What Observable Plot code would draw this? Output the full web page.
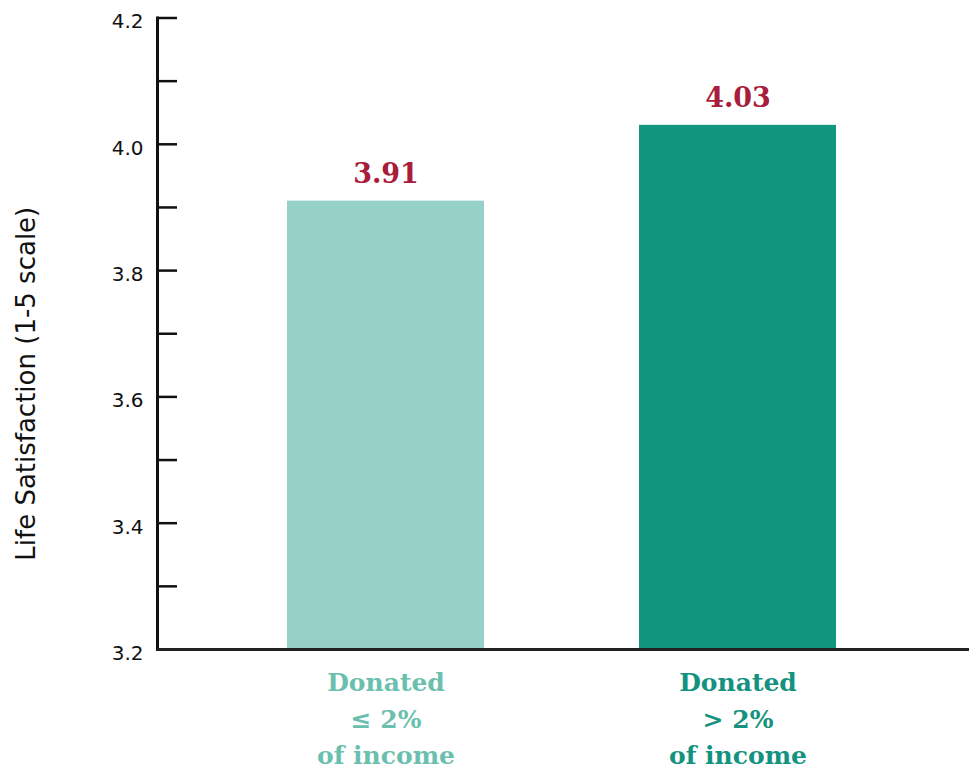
<!DOCTYPE html>
<html>
<head>
<meta charset="utf-8">
<script src="https://cdn.jsdelivr.net/npm/d3@7"></script>
<script src="https://cdn.jsdelivr.net/npm/@observablehq/plot@0.6"></script>
<style>
  html, body { margin: 0; padding: 0; background: #fff; }
  #chart svg { display: block; }
</style>
</head>
<body>
<div id="chart"></div>
<script>
const categories = ["Donated\n≤ 2%\nof income", "Donated\n> 2%\nof income"];
const values = [3.91, 4.03];
const valueLabels = ["3.91", "4.03"];
const barColors = ["#96d1c8", "#13967f"];
const labelColors = ["#6bbfae", "#13937f"];
const majorTicks = [3.2, 3.4, 3.6, 3.8, 4.0, 4.2];
const allTicks = [3.2, 3.3, 3.4, 3.5, 3.6, 3.7, 3.8, 3.9, 4.0, 4.1, 4.2];
const yTitle = "Life Satisfaction (1-5 scale)";

const data = categories.map((c, i) => ({cat: c, value: values[i], label: valueLabels[i], bar: barColors[i], text: labelColors[i]}));

const W = 969, H = 769;
const serif = "'DejaVu Serif', serif";
const sans = "'DejaVu Sans', sans-serif";

const plot = Plot.plot({
  width: W,
  height: H,
  marginLeft: 157,
  marginRight: 0,
  marginTop: 17.5,
  marginBottom: 120,
  style: {background: "#fff", overflow: "visible"},
  x: {domain: categories, range: [209.6, 913.6], paddingInner: 0.44, paddingOuter: 0.22, axis: null},
  y: {domain: [3.2, 4.2], axis: null},
  color: {type: "identity"},
  marks: [
    Plot.barY(data, {x: "cat", y1: 3.2, y2: "value", fill: "bar"}),
    Plot.tickY(allTicks, {y: d => d, stroke: "#111", strokeWidth: 2.5, insetRight: W - 157 - 20}),
    Plot.frame({anchor: "left", stroke: "#111", strokeWidth: 3}),
    Plot.ruleY([3.2], {stroke: "#222", strokeWidth: 3}),
    Plot.text(majorTicks, {y: d => d, text: d => d.toFixed(1), frameAnchor: "left", textAnchor: "end", dx: -14, dy: 4, fontSize: 20, fontFamily: sans, fill: "#111"}),
    Plot.text([yTitle], {frameAnchor: "left", textAnchor: "middle", rotate: -90, dx: -131, dy: 50, fontSize: 26, fontFamily: sans, fill: "#111", text: d => d}),
    Plot.text(data, {x: "cat", y: "value", text: "label", dy: -18, lineAnchor: "bottom", fontSize: 27, fontWeight: "bold", fontFamily: serif, fill: "#a81d3b"}),
    Plot.text(data, {x: "cat", text: "cat", frameAnchor: "bottom", lineAnchor: "top", dy: 16, lineHeight: 1.46, fontSize: 25, fontWeight: "bold", fontFamily: serif, fill: "text"})
  ]
});
document.getElementById("chart").appendChild(plot);
</script>
</body>
</html>
